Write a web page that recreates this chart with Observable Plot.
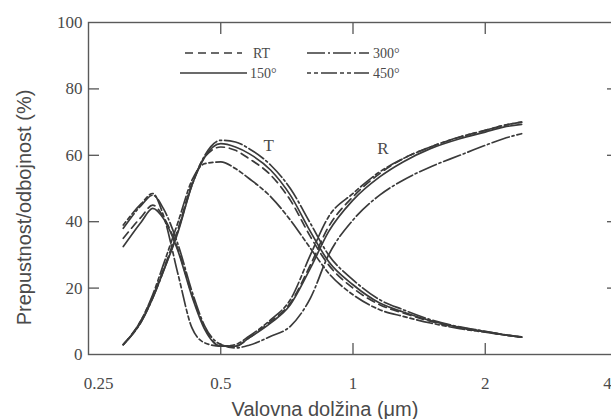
<!DOCTYPE html>
<html><head><meta charset="utf-8">
<script src="https://cdn.jsdelivr.net/npm/d3@7"></script>
<script src="https://cdn.jsdelivr.net/npm/@observablehq/plot@0.6"></script>
<style>
html,body{margin:0;padding:0;background:#fff;overflow:hidden;}
#wrap{position:relative;width:611px;height:419px;overflow:hidden;}
#legend{position:absolute;left:0;top:0;}
</style></head><body><div id="wrap"></div>
<script>
// ---- data ----
const wavelength = [0.30, 0.33, 0.35, 0.37, 0.40, 0.43, 0.46, 0.50, 0.54, 0.58, 0.65, 0.72, 0.80, 0.88, 1.0, 1.15, 1.3, 1.5, 1.75, 2.0, 2.2, 2.42];
const T_RT  = [3, 10.5, 17.5, 25.5, 38, 51.5, 59.5, 62.5, 61.5, 59, 54, 46.5, 35.5, 27, 20, 15, 12.5, 10, 8, 6.8, 6, 5.2];
const T_150 = [3, 10, 17, 25, 37, 51, 59.5, 63.5, 62.5, 60.5, 55.5, 48, 37, 28, 21, 15.5, 12.8, 10.2, 8.2, 6.9, 6, 5.2];
const T_300 = [3, 10, 17, 25, 37.5, 51, 60, 64.5, 64, 62, 57, 50, 39.5, 30, 22.5, 16.5, 13.5, 10.5, 8.3, 7, 6, 5.3];
const T_450 = [3, 10.5, 18, 27, 40, 52.5, 57.5, 58, 56, 53, 47.5, 40.5, 32, 24.5, 18, 13.5, 11.5, 9.5, 7.8, 6.7, 5.9, 5.2];
const R_RT  = [35, 41.5, 45, 41.5, 31.5, 18, 8, 2.5, 2.5, 5, 10, 15.5, 27, 38.5, 47.5, 54.5, 59, 62.5, 65.5, 67.5, 69, 70];
const R_150 = [32.5, 40, 44, 41, 31, 17.5, 7.5, 2.5, 2.5, 5, 9.5, 15, 26, 37, 46.5, 53.5, 58, 62, 65, 67, 68.5, 69.3];
const R_300 = [38, 45, 48, 44, 33, 19, 8.5, 3, 2, 2.8, 5.5, 8.5, 17, 30, 40.5, 48, 52.5, 56.5, 60, 63, 65, 66.5];
const R_450 = [39, 45.5, 48.5, 42, 24, 8, 3.5, 2.5, 3, 5.5, 10.5, 16.5, 30, 41.5, 48.5, 55, 59, 62.5, 65.5, 67.5, 69, 70];

const conditions = ["RT", "150°", "300°", "450°"];
const xTicks = [0.25, 0.5, 1, 2, 4];
const yTicks = [0, 20, 40, 60, 80, 100];
const annLabels = ["T", "R"];
const annX = [0.643, 1.17];
const annY = [62.9, 61.9];
const xTitle = "Valovna dolžina (μm)";
const yTitle = "Prepustnost/odbojnost (%)";

// ---- build table ----
const seriesT = {"RT": T_RT, "150°": T_150, "300°": T_300, "450°": T_450};
const seriesR = {"RT": R_RT, "150°": R_150, "300°": R_300, "450°": R_450};
const rows = [];
for (const c of conditions) {
  wavelength.forEach((w, i) => rows.push({cond: c, q: "T", w, v: seriesT[c][i]}));
  wavelength.forEach((w, i) => rows.push({cond: c, q: "R", w, v: seriesR[c][i]}));
}
const annotations = annLabels.map((t, i) => ({t, x: annX[i], y: annY[i]}));

// ---- styles ----
const ink = "#3a3a3a";
const textInk = "#4a4a4a";
const serif = "'Liberation Serif', 'DejaVu Serif', serif";
const sans = "'Liberation Sans', Arial, sans-serif";
const dashes = {"RT": "8,5", "150°": null, "300°": "18,3,2,3", "450°": "4,3,4,3,16,3"};

const marks = [
  Plot.frame({stroke: "#5a5a5a", strokeWidth: 1.4}),
  // inward ticks
  Plot.axisX({anchor: "bottom", ticks: [0.5, 1, 2], tickSize: 11, dy: -11, tickFormat: () => "", stroke: "#555", strokeWidth: 1.3, label: null}),
  Plot.axisX({anchor: "top", ticks: [0.5, 1, 2], tickSize: 11, dy: 11, tickFormat: () => "", stroke: "#555", strokeWidth: 1.3, label: null}),
  Plot.axisY({anchor: "left", ticks: [20, 40, 60, 80], tickSize: 11, dx: 11, tickFormat: () => "", stroke: "#555", strokeWidth: 1.3, label: null}),
  Plot.axisY({anchor: "right", ticks: [20, 40, 60, 80], tickSize: 11, dx: -11, tickFormat: () => "", stroke: "#555", strokeWidth: 1.3, label: null}),
  // labels
  Plot.axisX({anchor: "bottom", ticks: xTicks.slice(0, 1), tickSize: 0, tickPadding: 22, dx: 10, tickFormat: d => String(d), fill: textInk, label: null}),
  Plot.axisX({anchor: "bottom", ticks: xTicks.slice(1, 4), tickSize: 0, tickPadding: 22, tickFormat: d => String(d), fill: textInk, label: null}),
  Plot.axisX({anchor: "bottom", ticks: xTicks.slice(4), tickSize: 0, tickPadding: 22, dx: -10, tickFormat: d => String(d), fill: textInk, label: null}),
  Plot.axisY({anchor: "left", ticks: yTicks, tickSize: 0, tickPadding: 6, tickFormat: d => String(d), fill: textInk, label: null}),
];
for (const c of conditions) {
  marks.push(Plot.line(rows.filter(d => d.cond === c), {
    x: "w", y: "v", z: "q", curve: "monotone-x",
    stroke: ink, strokeWidth: 1.7, strokeDasharray: dashes[c]
  }));
}
marks.push(Plot.text(annotations, {x: "x", y: "y", text: "t", fontSize: 17, fontFamily: serif, fill: textInk}));
marks.push(Plot.text([xTitle], {frameAnchor: "bottom", textAnchor: "middle", lineAnchor: "middle", text: d => d, dx: -28, dy: 55, fontSize: 20, fontFamily: sans, fill: textInk}));
marks.push(Plot.text([yTitle], {frameAnchor: "left", textAnchor: "middle", lineAnchor: "middle", text: d => d, rotate: -90, dx: -64, dy: 19, fontSize: 20, fontFamily: sans, fill: textInk}));

const chart = Plot.plot({
  width: 611, height: 419,
  marginLeft: 88, marginTop: 22, marginBottom: 65, marginRight: -6,
  x: {type: "log", domain: [0.25, 4], label: null},
  y: {domain: [0, 100], label: null},
  style: {fontFamily: serif, fontSize: "17px", color: textInk, background: "white"},
  marks
});
const wrap = document.getElementById("wrap");
wrap.appendChild(chart);

// ---- legend overlay ----
const legendItems = [
  {label: "RT", col: 0, row: 0},
  {label: "150°", col: 0, row: 1},
  {label: "300°", col: 1, row: 0},
  {label: "450°", col: 1, row: 1}
];
const lx = [[185, 242, 253], [307, 369, 373]];
const ly = [53, 73];
const ns = "http://www.w3.org/2000/svg";
const lg = document.createElementNS(ns, "svg");
lg.setAttribute("id", "legend");
lg.setAttribute("width", 611);
lg.setAttribute("height", 100);
for (const it of legendItems) {
  const [x1, x2, tx] = lx[it.col];
  const xs = it.label === "150°" ? [180, 247, 250] : [x1, x2, tx];
  const line = document.createElementNS(ns, "line");
  line.setAttribute("x1", xs[0]); line.setAttribute("x2", xs[1]);
  line.setAttribute("y1", ly[it.row]); line.setAttribute("y2", ly[it.row]);
  line.setAttribute("stroke", ink); line.setAttribute("stroke-width", 1.6);
  if (dashes[it.label]) line.setAttribute("stroke-dasharray", dashes[it.label]);
  lg.appendChild(line);
  const t = document.createElementNS(ns, "text");
  t.setAttribute("x", xs[2]); t.setAttribute("y", ly[it.row] + 5);
  t.setAttribute("font-family", serif); t.setAttribute("font-size", 14);
  t.setAttribute("fill", textInk);
  t.textContent = it.label;
  lg.appendChild(t);
}
wrap.appendChild(lg);
</script></body></html>
